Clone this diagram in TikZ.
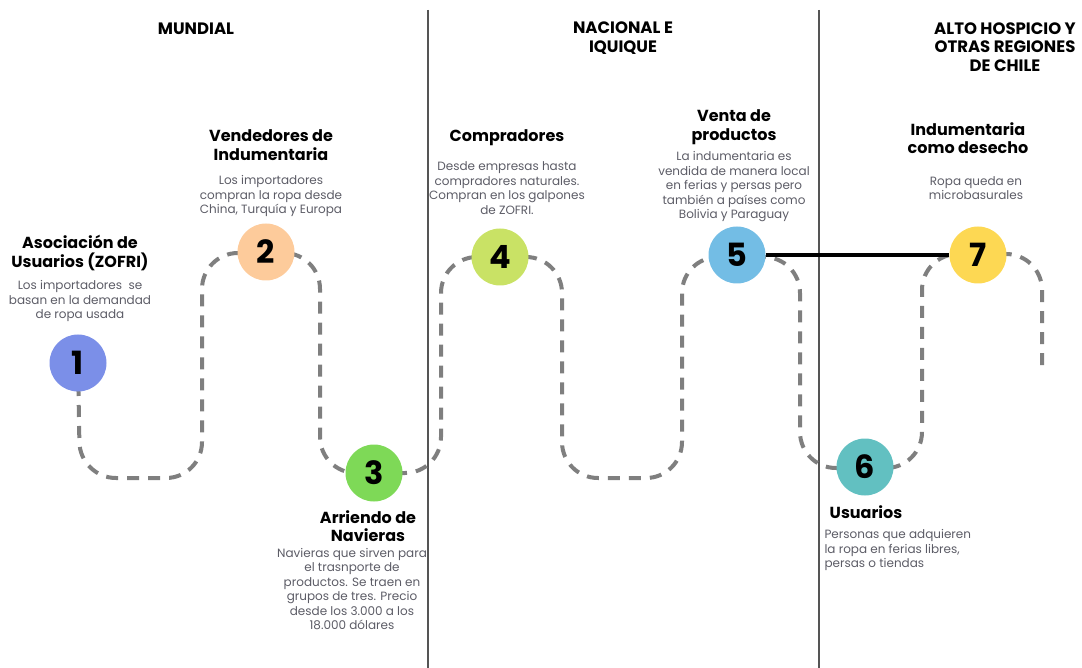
\documentclass[tikz,border=0pt]{standalone}
\usepackage{fontspec}
\setmainfont{Poppins}
\definecolor{cOne}{HTML}{7B8FE8}
\definecolor{cTwo}{HTML}{FDCB9B}
\definecolor{cThree}{HTML}{7ED957}
\definecolor{cFour}{HTML}{C9E265}
\definecolor{cFive}{HTML}{73BDE5}
\definecolor{cSix}{HTML}{62C0C1}
\definecolor{cSeven}{HTML}{FDD853}
\definecolor{bodygray}{HTML}{5C5C66}
\definecolor{dashgray}{HTML}{7F7F7F}
\definecolor{sepgray}{HTML}{555555}
\begin{document}
\begin{tikzpicture}[x=1pt,y=-1pt,
  header/.style={font=\bfseries\fontsize{16.5}{18.5}\selectfont, align=center, text=black},
  title/.style={font=\bfseries\fontsize{16}{18.5}\selectfont, align=center, text=black},
  body/.style={font=\fontsize{12}{14.5}\selectfont, align=center, text=bodygray},
  numcirc/.style={circle, minimum size=57pt, inner sep=0pt, font=\bfseries\fontsize{32}{32}\selectfont, text=black},
  wave/.style={draw=dashgray, line width=4pt, dash pattern=on 12pt off 9pt, rounded corners=36pt},
  sep/.style={draw=sepgray, line width=1.3pt},
  link/.style={draw=black, line width=4pt}]
\useasboundingbox (0,0) rectangle (1082,668);
% separators
\coordinate (s1t) at (428,10); \coordinate (s1b) at (428,668);
\coordinate (s2t) at (819,10); \coordinate (s2b) at (819,668);
\draw[sep] (s1t) -- (s1b);
\draw[sep] (s2t) -- (s2b);
% headers
\node[header] (h1) at (196,29) {MUNDIAL};
\node[header] (h2) at (623,38) {NACIONAL E\\IQUIQUE};
\node[header] (h3) at (1005,47) {ALTO HOSPICIO Y\\OTRAS REGIONES\\DE CHILE};
% wave
\draw[wave] (78,363) -- (80,478) -- (202,478) -- (202,253) -- (320,253) -- (320,473)
  -- (441,473) -- (441,257) -- (562,257) -- (562,478) -- (682,478) -- (682,257)
  -- (800,257) -- (800,468) -- (922,468) -- (922,254) -- (1042,254) -- (1042,366);
% circles
\node[numcirc, fill=cOne] (n1) at (78,363) {1};
\node[numcirc, fill=cTwo] (n2) at (266,252) {2};
\node[numcirc, fill=cThree] (n3) at (374,473) {3};
\node[numcirc, fill=cFour] (n4) at (500,257) {4};
\node[numcirc, fill=cFive] (n5) at (737,255) {5};
\node[numcirc, fill=cSix] (n6) at (865,467) {6};
\node[numcirc, fill=cSeven] (n7) at (978,255) {7};
\draw[link] (n5) -- (n7);
% titles
\node[title] (t1) at (80,253) {Asociación de\\Usuarios (ZOFRI)};
\node[title] (t2) at (271,145) {Vendedores de\\Indumentaria};
\node[title] (t4) at (507,138) {Compradores};
\node[title] (t5) at (734,127) {Venta de\\productos};
\node[title] (t7) at (968,138) {Indumentaria\\como desecho};
\node[title] (t3) at (368,526) {Arriendo de\\Navieras};
\node[title] (t6) at (866,512) {Usuarios};
% bodies
\node[body] (b1) at (80,301) {Los importadores\ \ se\\basan en la demandad\\de ropa usada};
\node[body] (b2) at (271,196) {Los importadores\\compran la ropa desde\\China, Turquía y Europa};
\node[body] (b4) at (507,188) {Desde empresas hasta\\compradores naturales.\\Compran en los galpones\\de ZOFRI.};
\node[body] (b5) at (734,187) {La indumentaria es\\vendida de manera local\\en ferias y persas pero\\también a países como\\Bolivia y Paraguay};
\node[body] (b7) at (976,188) {Ropa queda en\\microbasurales};
\node[body] (b3) at (352,589) {Navieras que sirven para\\el trasnporte de\\productos. Se traen en\\grupos de tres. Precio\\desde los 3.000 a los\\18.000 dólares};
\node[body, align=left, anchor=west] (b6) at (821,550) {Personas que adquieren\\la ropa en ferias libres,\\persas o tiendas};
\end{tikzpicture}
\end{document}
